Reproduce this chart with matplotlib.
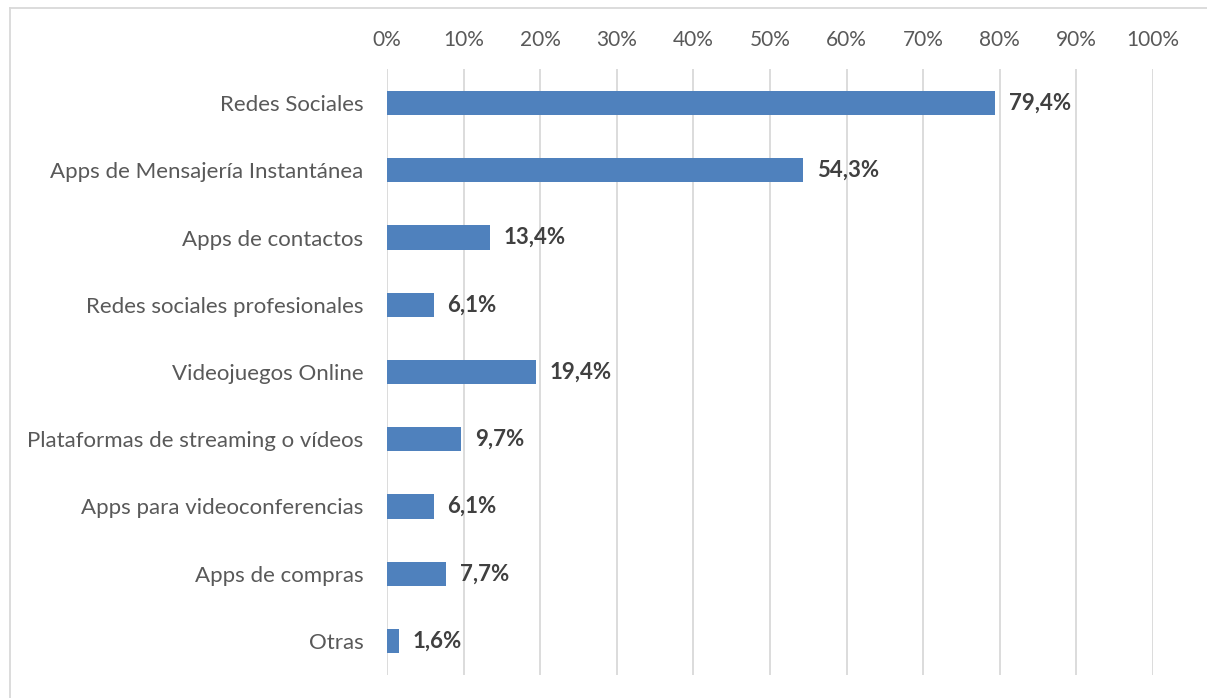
import matplotlib.pyplot as plt
from matplotlib.ticker import FuncFormatter, MultipleLocator

categories = [
    "Redes Sociales",
    "Apps de Mensajería Instantánea",
    "Apps de contactos",
    "Redes sociales profesionales",
    "Videojuegos Online",
    "Plataformas de streaming o vídeos",
    "Apps para videoconferencias",
    "Apps de compras",
    "Otras",
]
values = [79.4, 54.3, 13.4, 6.1, 19.4, 9.7, 6.1, 7.7, 1.6]

bar_color = "#4F81BD"
text_gray = "#595959"
label_gray = "#404040"
grid_gray = "#D9D9D9"

plt.rcParams["font.family"] = ["Lato", "DejaVu Sans"]

fig = plt.figure(figsize=(12.07, 6.98), dpi=100)
ax = fig.add_axes([0.3206, 0.0335, 0.9553 - 0.3206, 0.9006 - 0.0335])

y = list(range(len(categories)))
ax.barh(y, values, height=0.36, color=bar_color, zorder=3)
ax.set_ylim(len(categories) - 0.5, -0.5)
ax.set_xlim(0, 100)

for yi, v in zip(y, values):
    ax.text(v + 1.8, yi, f"{v:.1f}%".replace(".", ","), va="center", ha="left",
            fontsize=16, fontweight="bold", color=label_gray)

ax.xaxis.set_major_locator(MultipleLocator(10))
ax.xaxis.set_major_formatter(FuncFormatter(lambda x, _: f"{x:.0f}%"))
ax.xaxis.tick_top()
ax.grid(axis="x", color=grid_gray, linewidth=1.3, zorder=0)
ax.tick_params(axis="x", length=0, pad=14, labelsize=15, labelcolor=text_gray)
ax.set_yticks(y)
ax.set_yticklabels(categories)
ax.tick_params(axis="y", length=0, pad=17, labelsize=16, labelcolor=text_gray)
for s in ax.spines.values():
    s.set_visible(False)

# outer chart frame
fig.add_artist(plt.Line2D([10 / 1207, 10 / 1207], [0, 1 - 8 / 698],
                          color=grid_gray, linewidth=1.3, transform=fig.transFigure))
fig.add_artist(plt.Line2D([10 / 1207, 1], [1 - 8 / 698, 1 - 8 / 698],
                          color=grid_gray, linewidth=1.3, transform=fig.transFigure))

fig.savefig("out.png", dpi=100)
